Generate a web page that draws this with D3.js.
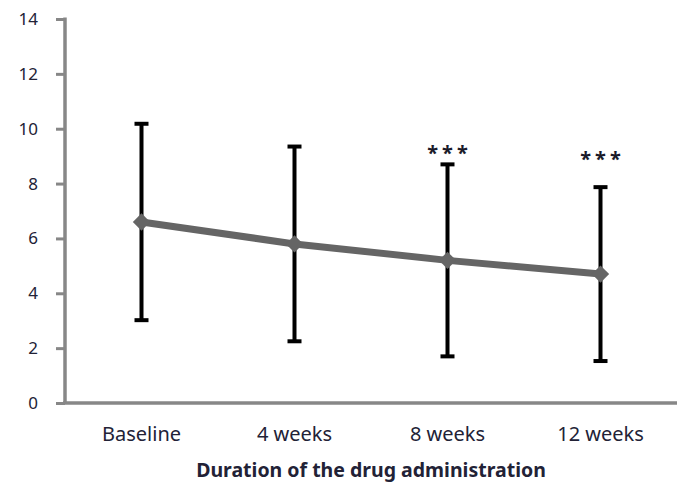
<!DOCTYPE html>
<html>
<head>
<meta charset="utf-8">
<script src="https://cdn.jsdelivr.net/npm/d3@7"></script>
<style>
  body { margin: 0; background: #fff; }
  text { font-family: "Noto Sans", "Open Sans", sans-serif; }
</style>
</head>
<body>
<div id="chart"></div>
<script>
// Chart data
const categories = ['Baseline', '4 weeks', '8 weeks', '12 weeks'];
const means = [6.6, 5.8, 5.2, 4.7];
const sds = [3.58, 3.55, 3.5, 3.17];
const sigMarks = ['', '', '***', '***'];
const sigLevels = [null, null, 9.25, 9.05];
const yTicks = [0, 2, 4, 6, 8, 10, 12, 14];
const xTitle = 'Duration of the drug administration';

const width = 685;
const height = 483;
const labelColor = '#222236';
const axisColor = '#878787';

const svg = d3.select('#chart')
  .append('svg')
  .attr('width', width)
  .attr('height', height);

// Scales
const x = d3.scaleBand().domain(categories).range([65, 677]);
const y = d3.scaleLinear().domain([0, 14]).range([403, 19]);
const cx = d => x(d) + x.bandwidth() / 2;

const points = categories.map((c, i) => ({
  cat: c, mean: means[i], sd: sds[i], sig: sigMarks[i], sigY: sigLevels[i]
}));

// Y axis
const yAxis = svg.append('g')
  .attr('transform', 'translate(65,0)')
  .call(d3.axisLeft(y).tickValues(yTicks).tickSize(9).tickPadding(18));
yAxis.select('.domain').remove();
yAxis.selectAll('line').attr('stroke', axisColor).attr('stroke-width', 3);
yAxis.selectAll('text')
  .attr('fill', labelColor)
  .style('font-size', '17px')
  .style('font-family', '"Noto Sans", sans-serif');
svg.append('line')
  .attr('x1', 65).attr('x2', 65)
  .attr('y1', y(14) - 1.5).attr('y2', y(0))
  .attr('stroke', axisColor).attr('stroke-width', 3.5);

// X axis
const xAxis = svg.append('g')
  .attr('transform', 'translate(0,' + y(0) + ')')
  .call(d3.axisBottom(x).tickSize(0).tickPadding(24));
xAxis.select('.domain').remove();
xAxis.selectAll('text')
  .attr('fill', labelColor)
  .style('font-size', '20px')
  .style('font-family', '"Noto Sans", sans-serif');
svg.append('line')
  .attr('x1', 63).attr('x2', 677)
  .attr('y1', y(0)).attr('y2', y(0))
  .attr('stroke', axisColor).attr('stroke-width', 3.5);

// Axis title
svg.append('text')
  .attr('x', (65 + 677) / 2)
  .attr('y', 476.5)
  .attr('text-anchor', 'middle')
  .attr('fill', labelColor)
  .style('font-size', '19.5px')
  .style('font-weight', 'bold')
  .text(xTitle);

// Mean line
const line = d3.line()
  .x(d => cx(d.cat))
  .y(d => y(d.mean));
svg.append('path')
  .datum(points)
  .attr('d', line)
  .attr('fill', 'none')
  .attr('stroke', '#656565')
  .attr('stroke-width', 7);

// Error bars
const bars = svg.selectAll('.err')
  .data(points)
  .enter()
  .append('g')
  .attr('class', 'err');
bars.append('line')
  .attr('x1', d => cx(d.cat)).attr('x2', d => cx(d.cat))
  .attr('y1', d => y(d.mean + d.sd)).attr('y2', d => y(d.mean - d.sd))
  .attr('stroke', '#000').attr('stroke-width', 4);
bars.append('line')
  .attr('x1', d => cx(d.cat) - 7).attr('x2', d => cx(d.cat) + 7)
  .attr('y1', d => y(d.mean + d.sd)).attr('y2', d => y(d.mean + d.sd))
  .attr('stroke', '#000').attr('stroke-width', 4);
bars.append('line')
  .attr('x1', d => cx(d.cat) - 7).attr('x2', d => cx(d.cat) + 7)
  .attr('y1', d => y(d.mean - d.sd)).attr('y2', d => y(d.mean - d.sd))
  .attr('stroke', '#000').attr('stroke-width', 4);

// Diamond markers
svg.selectAll('.marker')
  .data(points)
  .enter()
  .append('path')
  .attr('class', 'marker')
  .attr('d', d3.symbol(d3.symbolSquare, 150))
  .attr('transform', d => 'translate(' + cx(d.cat) + ',' + y(d.mean) + ') rotate(45)')
  .attr('fill', '#656565');

// Significance asterisks
svg.selectAll('.sig')
  .data(points.filter(d => d.sig))
  .enter()
  .append('text')
  .attr('class', 'sig')
  .attr('x', d => cx(d.cat) + 2)
  .attr('y', d => y(d.sigY) + 11)
  .attr('text-anchor', 'middle')
  .attr('fill', '#1a1a2a')
  .style('font-size', '20px')
  .style('font-weight', 'bold')
  .style('letter-spacing', '4px')
  .text(d => d.sig);
</script>
</body>
</html>
